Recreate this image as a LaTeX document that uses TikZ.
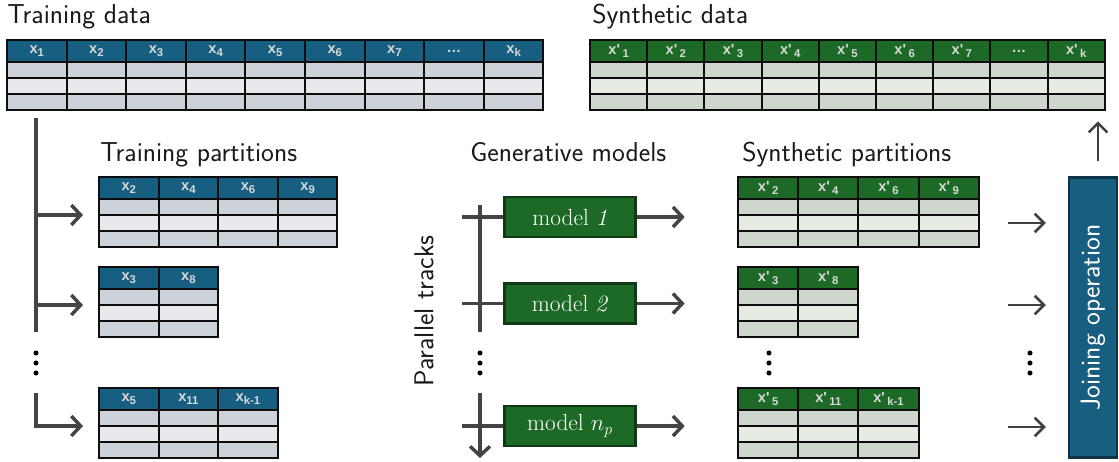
\documentclass[tikz,border=0pt]{standalone}
\usepackage{fontspec}
\newfontfamily\hdrfont{Liberation Sans}
\usetikzlibrary{arrows.meta}

\definecolor{tblue}{HTML}{175F80}
\definecolor{jblue}{HTML}{185E80}
\definecolor{jborder}{HTML}{0E3246}
\definecolor{trowa}{HTML}{CDD1D8}
\definecolor{trowb}{HTML}{E7E9EC}
\definecolor{sgreen}{HTML}{1D6A26}
\definecolor{mborder}{HTML}{0E3B13}
\definecolor{srowa}{HTML}{CFD6CD}
\definecolor{srowb}{HTML}{E6EBE4}
\definecolor{hdrgray}{HTML}{D8D8D8}
\definecolor{trackgray}{HTML}{444444}

\newcommand{\colsub}[1]{\raisebox{-2.6pt}{\fontsize{8.5}{9}\selectfont #1}}
\newcommand{\tcol}[1]{x\colsub{#1}}
\newcommand{\scol}[1]{x'\,\colsub{#1}}

% table: name, left, top, scheme, column labels
\newcommand{\datatable}[5]{%
  \foreach \lab [count=\c] in {#5} {
    \pgfmathsetmacro{\cx}{#2+(\c-1)*\colw}
    \filldraw[#4head, cell] (\cx,#3) rectangle ++(\colw,22);
    \filldraw[#4rowa, cell] (\cx,#3+22) rectangle ++(\colw,16);
    \filldraw[#4rowb, cell] (\cx,#3+38) rectangle ++(\colw,16);
    \filldraw[#4rowa, cell] (\cx,#3+54) rectangle ++(\colw,16);
    \node[hdr] at (\cx+\colw/2,#3+11) {\lab};
  }
  \coordinate (#1) at (#2,#3+38);
}

\tikzset{
  lbl/.style={font=\sffamily\fontsize{20.5}{24}\selectfont, inner sep=0pt, text=black!90},
  hdr/.style={font=\hdrfont\bfseries\fontsize{11}{12}\selectfont, text=hdrgray, inner sep=0pt},
  cell/.style={draw=black!95, line width=1.5pt},
  trainhead/.style={fill=tblue}, trainrowa/.style={fill=trowa}, trainrowb/.style={fill=trowb},
  synthhead/.style={fill=sgreen}, synthrowa/.style={fill=srowa}, synthrowb/.style={fill=srowb},
  track/.style={draw=trackgray, line width=2.6pt},
  trackarr/.style={track, -{Straight Barb[length=7pt,width=15pt]}},
  joinarr/.style={draw=black!75, line width=1.9pt, -{Straight Barb[length=7pt,width=14pt]}},
  model/.style={draw=mborder, line width=1.8pt, fill=sgreen, text=white,
    minimum width=98pt, minimum height=30pt, font=\fontsize{17.5}{20}\selectfont},
  joinbox/.style={draw=jborder, line width=1.8pt, fill=jblue, text=white,
    minimum width=36pt, minimum height=210pt, inner sep=0pt}
}

\begin{document}
\begin{tikzpicture}[x=0.75pt,y=-0.75pt]
  \useasboundingbox (0,0) rectangle (1119,461);

  % labels
  \node[lbl, anchor=base west] (ltrain) at (7,23) {Training data};
  \node[lbl, anchor=base west] (lsynth) at (592,23) {Synthetic data};
  \node[lbl, anchor=base west] (ltpart) at (100,161) {Training partitions};
  \node[lbl, anchor=base west] (lgen) at (470,161) {Generative models};
  \node[lbl, anchor=base west] (lspart) at (742,161) {Synthetic partitions};
  \node[lbl, rotate=90] (lpar) at (424,311) {Parallel tracks};

  % training side
  \def\colw{59.6}
  \datatable{tdata}{7}{40}{train}{\tcol{1},\tcol{2},\tcol{3},\tcol{4},\tcol{5},\tcol{6},\tcol{7},\dots,\tcol{k}}
  \datatable{tpart1}{99}{177}{train}{\tcol{2},\tcol{4},\tcol{6},\tcol{9}}
  \datatable{tpart2}{99}{267}{train}{\tcol{3},\tcol{8}}
  \datatable{tpart3}{99}{388}{train}{\tcol{5},\tcol{11},\tcol{k-1}}

  % synthetic side
  \def\colw{57.2}
  \datatable{sdata}{590}{40}{synth}{\scol{1},\scol{2},\scol{3},\scol{4},\scol{5},\scol{6},\scol{7},\dots,\scol{k}}
  \def\colw{60.2}
  \datatable{spart1}{738}{177}{synth}{\scol{2},\scol{4},\scol{6},\scol{9}}
  \datatable{spart2}{738}{267}{synth}{\scol{3},\scol{8}}
  \datatable{spart3}{738}{388}{synth}{\scol{5},\scol{11},\scol{k-1}}

  % splitting tracks
  \coordinate (ttop) at (36,118);
  \coordinate (tlow) at (36,393);
  \draw[track] (ttop) -- (36,332);
  \draw[trackarr, shorten >=12pt] (ttop |- tpart1) -- (tpart1);
  \draw[trackarr, shorten >=12pt] (ttop |- tpart2) -- (tpart2);
  \draw[trackarr, shorten >=12pt] (tlow) |- (tpart3);
  \foreach \d in {353,363,373} \fill (36,\d) circle[radius=1.9pt];

  % generative models
  \node[model] (m1) at (570,217) {model \textit{1}};
  \node[model] (m2) at (570,303.5) {model \textit{2}};
  \node[model] (mn) at (570,426) {model $n_p$};
  \draw[track] (480,205) -- (480,332);
  \draw[trackarr] (480,393) -- (480,458);
  \draw[track] (m1.west) -- ++(-41,0);
  \draw[track] (m2.west) -- ++(-41,0);
  \draw[track] (mn.west) -- ++(-41,0);
  \foreach \d in {353,363,373} \fill (480,\d) circle[radius=1.9pt];
  \draw[trackarr, shorten >=40pt] (m1.east) -- (m1.east -| spart1);
  \draw[trackarr, shorten >=40pt] (m2.east) -- (m2.east -| spart2);
  \draw[trackarr, shorten >=40pt] (mn.east) -- (mn.east -| spart3);
  \foreach \d in {353,363,373} \fill (769,\d) circle[radius=1.9pt];

  % joining
  \node[joinbox] (join) at (1093,317.5) {\rotatebox{90}{\sffamily\fontsize{20.5}{24}\selectfont Joining operation}};
  \coordinate (jin1) at (1008,223);
  \coordinate (jin2) at (1008,305);
  \coordinate (jin3) at (1008,427);
  \draw[joinarr, shorten >=16.5pt] (jin1) -- (jin1 -| join.west);
  \draw[joinarr, shorten >=16.5pt] (jin2) -- (jin2 -| join.west);
  \draw[joinarr, shorten >=16.5pt] (jin3) -- (jin3 -| join.west);
  \foreach \d in {353,363,373} \fill (1030,\d) circle[radius=1.9pt];
  \draw[joinarr] ([xshift=3.75pt,yshift=11.25pt]join.north) -- ++(0,-40);
\end{tikzpicture}
\end{document}
